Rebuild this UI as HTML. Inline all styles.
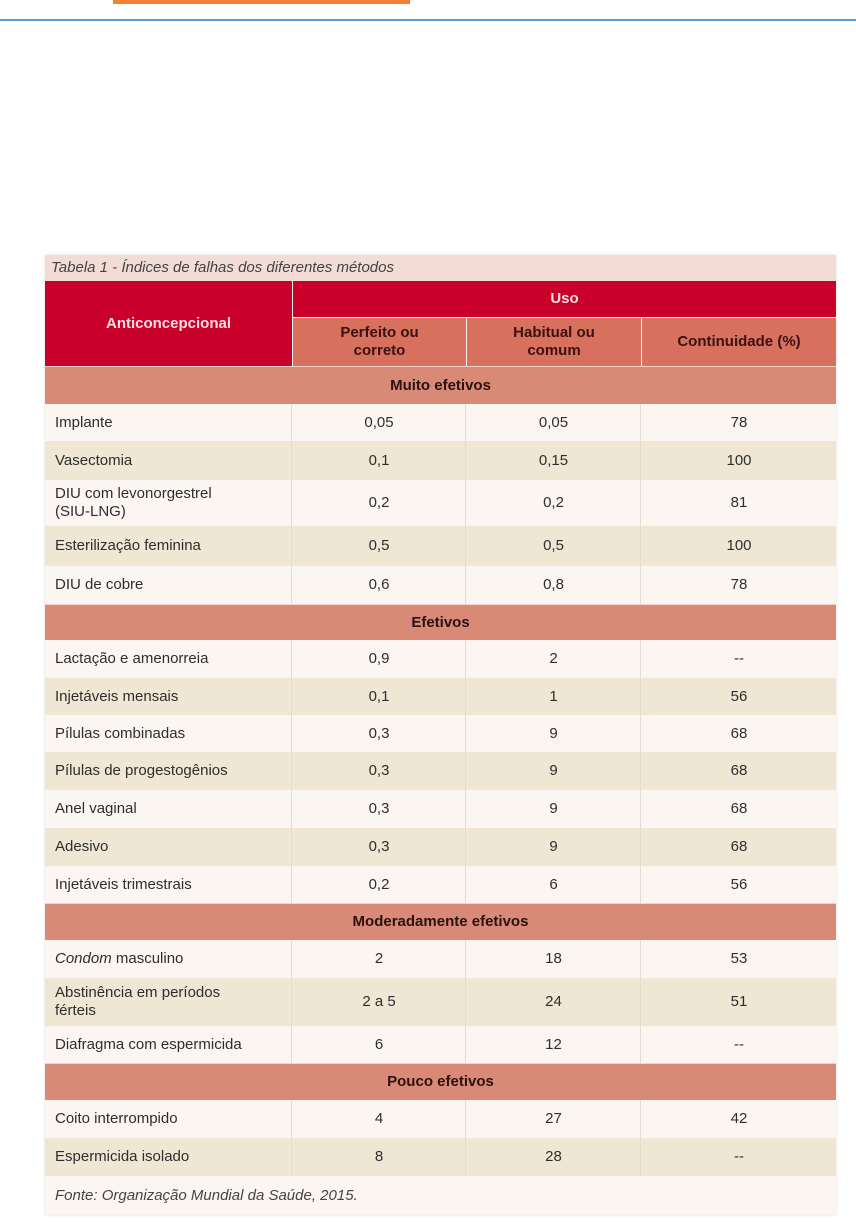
<!DOCTYPE html>
<html><head><meta charset="utf-8">
<style>
body{margin:0;width:856px;height:1223px;background:#fff;position:relative;overflow:hidden;font-family:"Liberation Sans",sans-serif;}
.abs{position:absolute;box-sizing:border-box;}
.cell{position:absolute;box-sizing:border-box;display:flex;align-items:center;font-size:15px;color:#2e2e2e;line-height:18px;}
.c{justify-content:center;text-align:center;}
.l{padding-left:10px;}
</style></head><body>
<div class="abs" style="left:113px;top:0;width:297px;height:4px;background:#f08232"></div>
<div class="abs" style="left:0;top:19px;width:856px;height:2px;background:#5b9bd5"></div>

<div id="tbl" class="abs" style="left:45px;top:255px;width:791px;height:960px;background:#fbf6f2;box-shadow:0 0 3px #ddd">
<div class="cell l" style="left:0;top:0;width:791px;height:26px;background:#f2dcd5;font-style:italic;color:#444;padding-left:6px">Tabela 1 - Índices de falhas dos diferentes métodos</div>
<div class="cell c" style="left:0;top:26px;width:247px;height:85px;background:#c8002a;color:#fbe0e0;font-weight:bold">Anticoncepcional</div>
<div class="cell c" style="left:248px;top:26px;width:543px;height:36px;background:#c8002a;color:#fbe0e0;font-weight:bold">Uso</div>
<div class="cell c" style="left:248px;top:63px;width:173px;height:48px;background:#d8705e;color:#3a1010;font-weight:bold">Perfeito ou<br>correto</div>
<div class="cell c" style="left:422px;top:63px;width:174px;height:48px;background:#d8705e;color:#3a1010;font-weight:bold">Habitual ou<br>comum</div>
<div class="cell c" style="left:597px;top:63px;width:194px;height:48px;background:#d8705e;color:#3a1010;font-weight:bold">Continuidade (%)</div>
</div>
<script>
const rows=[
["S","Muito efetivos",366,404],
["R","Implante","0,05","0,05","78",404,441],
["R","Vasectomia","0,1","0,15","100",441,480],
["R","DIU com levonorgestrel<br>(SIU-LNG)","0,2","0,2","81",480,526],
["R","Esterilização feminina","0,5","0,5","100",526,566],
["R","DIU de cobre","0,6","0,8","78",566,604],
["S","Efetivos",604,640],
["R","Lactação e amenorreia","0,9","2","--",640,678],
["R","Injetáveis mensais","0,1","1","56",678,715],
["R","Pílulas combinadas","0,3","9","68",715,752],
["R","Pílulas de progestogênios","0,3","9","68",752,790],
["R","Anel vaginal","0,3","9","68",790,828],
["R","Adesivo","0,3","9","68",828,866],
["R","Injetáveis trimestrais","0,2","6","56",866,903],
["S","Moderadamente efetivos",903,940],
["R","<i>Condom</i> masculino","2","18","53",940,978],
["R","Abstinência em períodos<br>férteis","2 a 5","24","51",978,1026],
["R","Diafragma com espermicida","6","12","--",1026,1063],
["S","Pouco efetivos",1063,1100],
["R","Coito interrompido","4","27","42",1100,1138],
["R","Espermicida isolado","8","28","--",1138,1176]
];
const T=document.getElementById('tbl');const top0=255;
let alt=0;
const cols=[[0,247],[248,173],[422,174],[597,194]];
rows.forEach(r=>{
 if(r[0]==="S"){
  const d=document.createElement('div');d.className='cell c';
  
  
  d.style.cssText=`left:0;top:${r[2]-top0}px;width:791px;height:${r[3]-r[2]}px;background:#d98a76;font-weight:bold;color:#2a1010;border-top:1px solid #f3d2c8`;
  d.innerHTML='<span>'+r[1]+'</span>';T.appendChild(d);alt=0;return;
 }
 const y=r[5]-top0,h=r[6]-r[5];
 const bg=alt%2?'#efe6d3':'#fbf6f2';alt++;
 const rw=document.createElement('div');rw.className='abs';
 
 
 rw.style.cssText=`left:0;top:${y}px;width:791px;height:${h}px;background:${bg}`;
 T.appendChild(rw);
 for(let i=0;i<4;i++){
  const c=document.createElement('div');c.className='cell '+(i?'c':'l');
  
  
  c.style.cssText=`left:${cols[i][0]}px;top:${y}px;width:${cols[i][1]}px;height:${h}px;`+(i<3?'border-right:1px solid #e6dbd0':'');
  c.innerHTML='<span>'+r[i+1]+'</span>';T.appendChild(c);
 }
});
const f=document.createElement('div');f.className='cell l';


f.style.cssText='left:0;top:921px;width:791px;height:39px;font-style:italic;color:#444;background:#fbf6f2';
f.textContent='Fonte: Organização Mundial da Saúde, 2015.';T.appendChild(f);
</script>
</body></html>
